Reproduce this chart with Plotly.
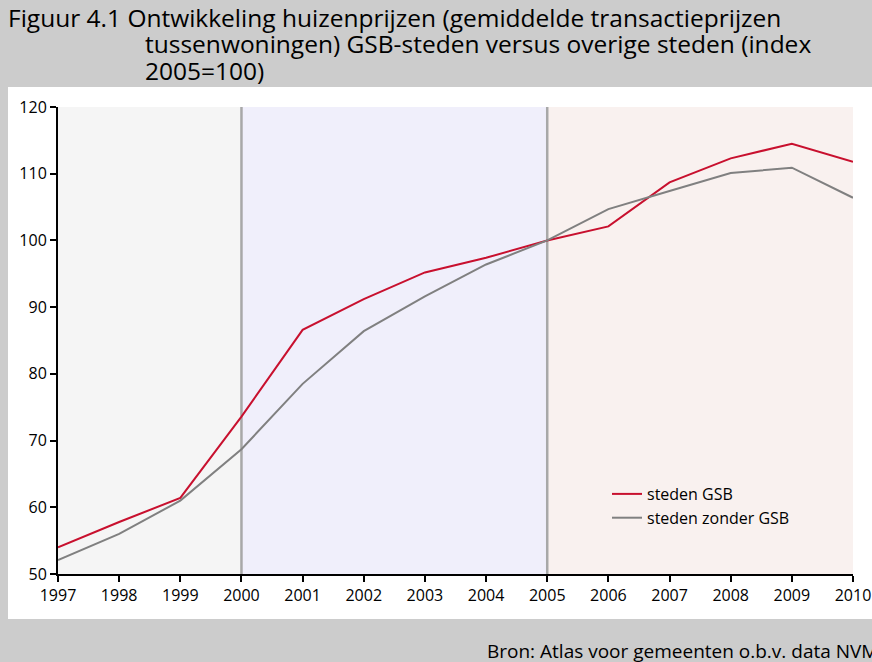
import plotly.graph_objects as go

years = [1997, 1998, 1999, 2000, 2001, 2002, 2003, 2004, 2005, 2006, 2007, 2008, 2009, 2010]
gsb = [54.0, 57.8, 61.4, 73.6, 86.6, 91.2, 95.2, 97.4, 100.0, 102.1, 108.7, 112.3, 114.5, 111.8]
zonder = [52.1, 56.0, 61.0, 68.7, 78.5, 86.4, 91.6, 96.4, 100.0, 104.7, 107.4, 110.1, 110.9, 106.4]
periods = [(1997, 2000, "#f5f5f5"), (2000, 2005, "#f0effb"), (2005, 2010, "#f9f1ef")]
dividers = [2000, 2005]

W, H = 872, 662
L, R, T, B = 58, 853, 107, 574

def px(x):
    return (x - L) / (R - L)

def py(y):
    return (B - y) / (B - T)

font = "Open Sans"
fig = go.Figure()
fig.add_trace(go.Scatter(x=years, y=gsb, mode="lines", name="steden GSB",
                         line=dict(color="#c8102e", width=2), cliponaxis=False))
fig.add_trace(go.Scatter(x=years, y=zonder, mode="lines", name="steden zonder GSB",
                         line=dict(color="#808080", width=2), cliponaxis=False))

shapes = [dict(type="rect", xref="paper", yref="paper", x0=px(8), x1=px(880), y0=py(619), y1=py(87),
               fillcolor="white", line=dict(width=0), layer="below")]
for a, b, c in periods:
    shapes.append(dict(type="rect", xref="x", yref="paper", x0=a, x1=b, y0=0, y1=1,
                       fillcolor=c, line=dict(width=0), layer="below"))
for d in dividers:
    shapes.append(dict(type="line", xref="x", yref="paper", x0=d, x1=d, y0=0, y1=1,
                       line=dict(color="#a8a8a8", width=2.5), layer="below"))

tfont = dict(family=font, size=24.5, color="black")
annotations = [
    dict(text="Figuur 4.1 Ontwikkeling huizenprijzen (gemiddelde transactieprijzen",
         xref="paper", yref="paper", x=px(6), y=py(17), xanchor="left", yanchor="middle",
         showarrow=False, font=tfont),
    dict(text="tussenwoningen) GSB-steden versus overige steden (index",
         xref="paper", yref="paper", x=px(143), y=py(43.5), xanchor="left", yanchor="middle",
         showarrow=False, font=tfont),
    dict(text="2005=100)",
         xref="paper", yref="paper", x=px(143), y=py(70), xanchor="left", yanchor="middle",
         showarrow=False, font=tfont),
    dict(text="Bron: Atlas voor gemeenten o.b.v. data NVM",
         xref="paper", yref="paper", x=px(485), y=py(651), xanchor="left", yanchor="middle",
         showarrow=False, font=dict(family=font, size=19, color="black")),
]

fig.update_layout(
    width=W, height=H,
    margin=dict(l=L, r=W - R, t=T, b=H - B, autoexpand=False),
    paper_bgcolor="#cccccc", plot_bgcolor="rgba(0,0,0,0)",
    font=dict(family=font, size=16, color="black"),
    shapes=shapes, annotations=annotations,
    showlegend=True,
    legend=dict(x=px(607), y=py(477), xanchor="left", yanchor="top",
                bgcolor="rgba(0,0,0,0)", font=dict(size=16), itemwidth=30,
                tracegroupgap=0),
    xaxis=dict(range=[1997, 2010], tickmode="array", tickvals=years, automargin=False,
               showgrid=False, zeroline=False, showline=True, linecolor="black", linewidth=2,
               ticks="outside", ticklen=6, tickwidth=2, tickcolor="black",
               tickfont=dict(size=16)),
    yaxis=dict(range=[50, 120], dtick=10, showgrid=False, zeroline=False, automargin=False,
               showline=True, linecolor="black", linewidth=2,
               ticks="outside", ticklen=6, tickwidth=2, tickcolor="black",
               tickfont=dict(size=16)),
)
fig.write_html("out.html", config={"displayModeBar": False},
               post_script="document.body.style.margin='0';document.body.style.overflow='hidden';")
